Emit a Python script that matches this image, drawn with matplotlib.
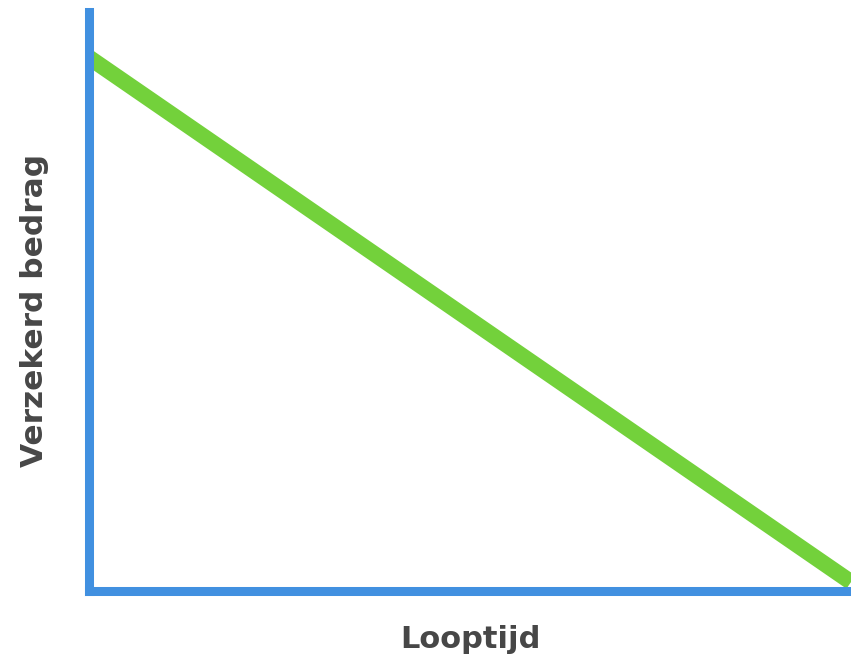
import matplotlib.pyplot as plt

# looptijd (years) vs verzekerd bedrag (relative)
looptijd = [0, 30]
bedrag = [100, 0]

BLUE = '#4190e0'
GREEN = '#73d13b'
TEXT = '#474747'

W, H = 851, 659
fig = plt.figure(figsize=(W / 100, H / 100), dpi=100)

# axes box in pixel coordinates (left, bottom, right, top from top edge)
x0, y_bot, x1, y_top = 88.5, 590.5, 851, 12
ax = fig.add_axes([x0 / W, 1 - y_bot / H, (x1 - x0) / W, (y_bot - y_top) / H])

ax.plot(looptijd, bedrag, color=GREEN, lw=11.5, solid_capstyle='butt')

ax.set_xlim(0, 30)
ax.set_ylim(-1.6, 108.6)

for side in ['top', 'right']:
    ax.spines[side].set_visible(False)
for side in ['left', 'bottom']:
    ax.spines[side].set_color(BLUE)
    ax.spines[side].set_linewidth(6.5)
    ax.spines[side].set_capstyle('projecting')
ax.spines['left'].set_zorder(5)

ax.set_xticks([])
ax.set_yticks([])

fig.text(470 / W, 1 - 640 / H, 'Looptijd', ha='center', va='center',
         fontsize=22, fontweight='bold', color=TEXT)
fig.text(35 / W, 1 - 310 / H, 'Verzekerd bedrag', ha='center', va='center',
         rotation=90, fontsize=22.5, fontweight='bold', color=TEXT)

fig.savefig('out.png', dpi=100)
